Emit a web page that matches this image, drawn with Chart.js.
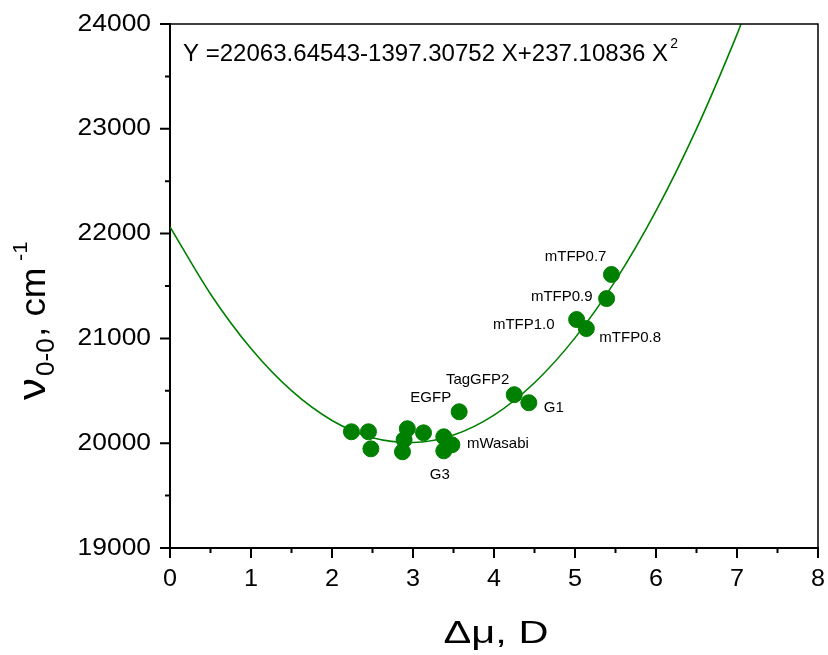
<!DOCTYPE html>
<html>
<head>
<meta charset="utf-8">
<script src="https://cdn.jsdelivr.net/npm/chart.js@4.4.1/dist/chart.umd.min.js"></script>
<style>
  html, body { margin: 0; padding: 0; background: #fff; }
  #wrap { width: 828px; height: 655px; }
</style>
</head>
<body>
<div id="wrap"><canvas id="fitChart" width="828" height="655"></canvas></div>
<script>
// measured proteins: dipole change (D) vs 0-0 transition (cm-1)
const dipoleX = [2.24, 2.45, 2.48, 2.93, 3.13, 2.89, 2.87, 3.38, 3.38, 3.48, 3.57, 4.25, 4.43, 5.02, 5.14, 5.39, 5.45];
const nu00 = [20109, 20109, 19946, 20138, 20099, 20033, 19918, 20061, 19927, 19985, 20300, 20463, 20386, 21180, 21094, 21380, 21610];
const pointNames = ['', '', '', '', '', '', '', '', 'G3', 'mWasabi', 'EGFP', 'TagGFP2', 'G1', 'mTFP1.0', 'mTFP0.8', 'mTFP0.9', 'mTFP0.7'];

// fitted parabola
const fitX = [0, 0.5, 1, 1.5, 2, 2.5, 3, 3.5, 4, 4.5, 5, 5.5, 6, 6.5, 7, 7.05];
const fitY = [22064, 21424, 20903, 20501, 20217, 20052, 20006, 20078, 20268, 20577, 21005, 21551, 22216, 22999, 23901, 24000];

const xTicks = [0, 1, 2, 3, 4, 5, 6, 7, 8];
const yTicks = [19000, 20000, 21000, 22000, 23000, 24000];
const equationText = 'Y =22063.64543-1397.30752 X+237.10836 X';

const green = '#008000';
const FONT = '"Liberation Sans", Arial, sans-serif';

// where each label sits relative to its point
const labelPos = {
    'G3':      { dx: -4,  dy: 24, align: 'center' },
    'mWasabi': { dx: 15,  dy: -1, align: 'left' },
    'EGFP':    { dx: -8,  dy: -14, align: 'right' },
    'TagGFP2': { dx: -5,  dy: -15, align: 'right' },
    'G1':      { dx: 15,  dy: 5,  align: 'left' },
    'mTFP1.0': { dx: -22, dy: 5,  align: 'right' },
    'mTFP0.8': { dx: 13,  dy: 9,  align: 'left' },
    'mTFP0.9': { dx: -14, dy: -2, align: 'right' },
    'mTFP0.7': { dx: -5,  dy: -18, align: 'right' }
};

// text a bit wider than the font gives, like the original export
function wideText(ctx, txt, x, y, sx, align) {
    const w = ctx.measureText(txt).width * sx;
    let left = x;
    if (align === 'center') left = x - w / 2;
    if (align === 'right') left = x - w;
    ctx.save();
    ctx.textAlign = 'left';
    ctx.translate(left, y);
    ctx.scale(sx, 1);
    ctx.fillText(txt, 0, 0);
    ctx.restore();
    return w;
}

const decor = {
    id: 'decor',
    afterDraw(chart) {
        const ctx = chart.ctx;
        const area = chart.chartArea;
        const xs = chart.scales.x, ys = chart.scales.y;
        ctx.save();

        // frame on top and right
        ctx.strokeStyle = '#000';
        ctx.lineWidth = 1.5;
        ctx.beginPath();
        ctx.moveTo(area.left, area.top);
        ctx.lineTo(area.right, area.top);
        ctx.lineTo(area.right, area.bottom);
        ctx.stroke();

        // outward tick marks, minor ones halfway
        ctx.lineWidth = 2;
        ctx.beginPath();
        for (let v = 19000; v <= 24000; v += 500) {
            const py = ys.getPixelForValue(v);
            const len = v % 1000 === 0 ? 10 : 5;
            ctx.moveTo(area.left, py);
            ctx.lineTo(area.left - len, py);
        }
        for (let v = 0; v <= 8; v += 0.5) {
            const px = xs.getPixelForValue(v);
            const len = Number.isInteger(v) ? 10 : 5;
            ctx.moveTo(px, area.bottom);
            ctx.lineTo(px, area.bottom + len);
        }
        ctx.stroke();

        // tick labels
        ctx.fillStyle = '#000';
        ctx.font = '24px ' + FONT;
        ctx.textBaseline = 'middle';
        yTicks.forEach(v => wideText(ctx, String(v), area.left - 19, ys.getPixelForValue(v), 1.1, 'right'));
        xTicks.forEach(v => wideText(ctx, String(v), xs.getPixelForValue(v), 579, 1.05, 'center'));

        // point labels
        ctx.font = '15px ' + FONT;
        pointNames.forEach((name, i) => {
            if (!name) return;
            const p = labelPos[name];
            ctx.textAlign = p.align;
            ctx.fillText(name, xs.getPixelForValue(dipoleX[i]) + p.dx, ys.getPixelForValue(nu00[i]) + p.dy);
        });

        // fit equation
        ctx.textBaseline = 'alphabetic';
        ctx.font = '23px ' + FONT;
        const w = wideText(ctx, equationText, 183, 61, 1.045, 'left');
        ctx.font = '14px ' + FONT;
        ctx.textAlign = 'left';
        ctx.fillText('2', 183 + w + 2, 48);

        // x title
        ctx.font = '32px ' + FONT;
        wideText(ctx, '\u0394\u03bc, D', 496, 643, 1.3, 'center');

        // y title with sub/superscript, running upwards
        ctx.translate(45, 400);
        ctx.rotate(-Math.PI / 2);
        ctx.font = '38px ' + FONT;
        wideText(ctx, '\u03bd', 0, 0, 1.15, 'left');
        ctx.font = '25px ' + FONT;
        wideText(ctx, '0-0', 24, 9, 1.05, 'left');
        ctx.font = '35px ' + FONT;
        wideText(ctx, ', cm', 63, 0, 1.05, 'left');
        ctx.font = '21px ' + FONT;
        wideText(ctx, '-1', 139, -18, 1.05, 'left');

        ctx.restore();
    }
};

new Chart(document.getElementById('fitChart'), {
    type: 'scatter',
    data: {
        datasets: [{
            label: 'fit',
            type: 'line',
            data: fitX.map((x, i) => ({ x: x, y: fitY[i] })),
            borderColor: green,
            borderWidth: 1.6,
            pointRadius: 0,
            cubicInterpolationMode: 'monotone',
            fill: false,
            order: 2
        }, {
            label: 'proteins',
            data: dipoleX.map((x, i) => ({ x: x, y: nu00[i] })),
            backgroundColor: green,
            borderColor: green,
            pointRadius: 8,
            pointHoverRadius: 8,
            order: 1
        }]
    },
    options: {
        responsive: false,
        animation: false,
        events: [],
        layout: { padding: { top: 24, right: 10, left: 0, bottom: 0 } },
        plugins: {
            legend: { display: false },
            tooltip: { enabled: false }
        },
        scales: {
            x: {
                type: 'linear',
                min: 0,
                max: 8,
                afterFit: s => { s.height = 107; },
                grid: { display: false, drawTicks: false },
                border: { display: true, color: '#000', width: 2 },
                ticks: { display: false }
            },
            y: {
                min: 19000,
                max: 24000,
                afterFit: s => { s.width = 170; },
                grid: { display: false, drawTicks: false },
                border: { display: true, color: '#000', width: 2 },
                ticks: { display: false }
            }
        }
    },
    plugins: [decor]
});
</script>
</body>
</html>
